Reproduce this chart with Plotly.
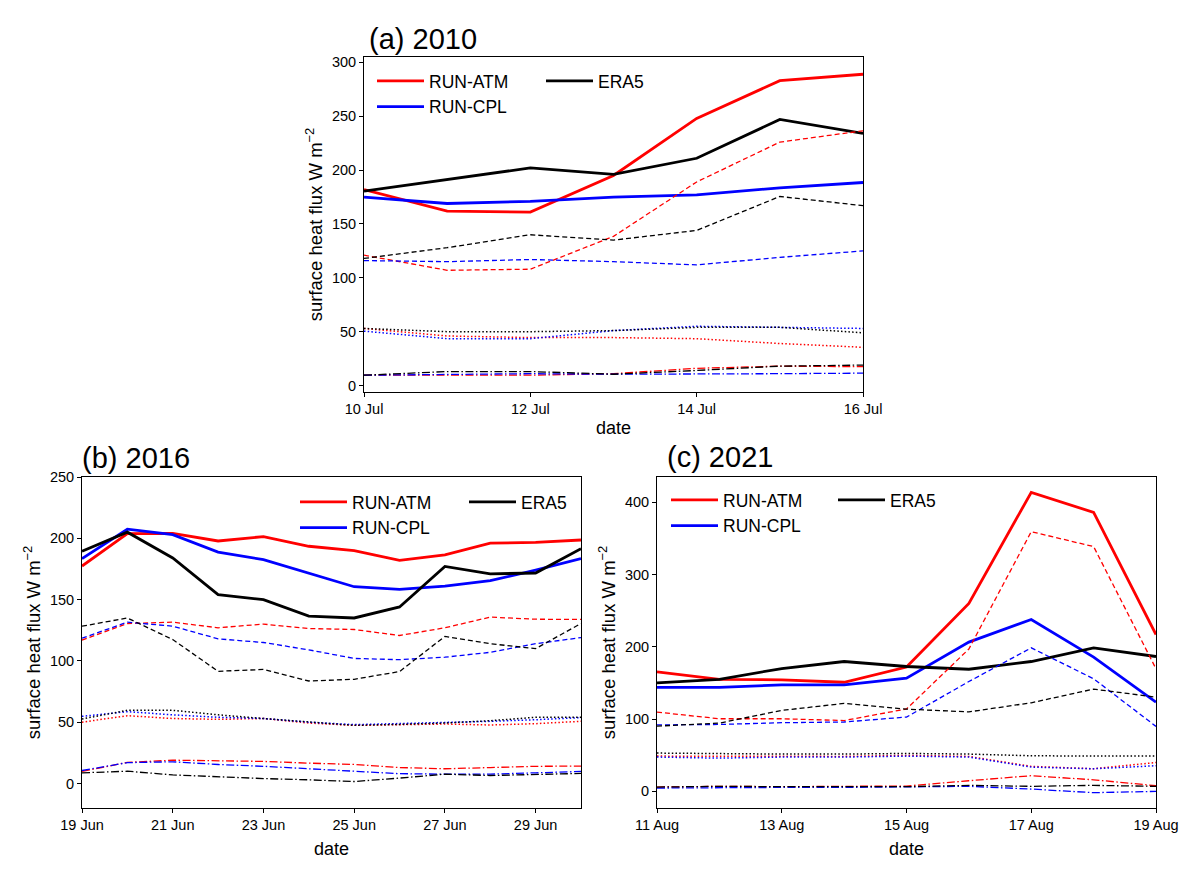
import plotly.graph_objects as go

# ---------------- data ----------------
dates_2010 = ["2010-07-%02d" % d for d in range(10, 17)]
dates_2016 = ["2016-06-%02d" % d for d in range(19, 31)]
dates_2021 = ["2021-08-%02d" % d for d in range(11, 20)]

# 2010 : solid = total, dashed / dotted / dash-dot = components
atm_total_2010 = [182, 162, 161, 195, 248, 283, 289]
cpl_total_2010 = [175, 169, 171, 175, 177, 183.5, 188.5]
era_total_2010 = [180.5, 191, 202, 196, 211, 247, 234]
atm_dash_2010 = [121, 107, 108, 138.5, 189, 226, 236.5]
cpl_dash_2010 = [116, 115, 117, 115, 112, 119, 125]
era_dash_2010 = [118, 128, 140, 135, 144, 175.5, 167]
atm_dot_2010 = [53, 46, 44.5, 44.5, 43.5, 39, 35.5]
cpl_dot_2010 = [50.5, 43.5, 43.5, 51, 55, 54, 53]
era_dot_2010 = [53, 50, 50, 51, 54, 54, 49]
atm_dd_2010 = [9.6, 9.6, 9.6, 11, 16, 18, 17.5]
cpl_dd_2010 = [9.6, 10.5, 11, 10.5, 10.5, 11, 11.5]
era_dd_2010 = [9.6, 13, 13, 10.5, 14, 18, 19]

# 2016
atm_total_2016 = [177.4, 203.8, 204, 197.8, 201.4, 193.5, 190, 182, 186.4, 196, 196.7, 198.6]
cpl_total_2016 = [183.4, 207.4, 203, 188.8, 182.6, 171.7, 160.5, 158.3, 161, 165.4, 174, 183.4]
era_total_2016 = [189.4, 205, 184, 154, 150, 136.5, 135, 144, 177, 171, 171.7, 191.5]
atm_dash_2016 = [117, 130.5, 131.6, 127, 130, 126.4, 125.6, 120.7, 127, 135.7, 134, 133.8]
cpl_dash_2016 = [118.5, 131.6, 128.3, 118, 115, 109, 102, 101, 103, 107, 114, 119]
era_dash_2016 = [128.3, 135, 117.4, 91.5, 93, 83.6, 85, 91.3, 120, 114, 110, 130.5]
atm_dot_2016 = [50, 55.3, 53, 52.3, 53, 49.3, 47.4, 47.7, 48.5, 47.7, 48.8, 50.7]
cpl_dot_2016 = [54.8, 58.6, 56, 54, 53, 50, 48, 48.8, 50, 50.7, 52, 53.7]
era_dot_2016 = [52.6, 59.7, 59.7, 56, 53, 50, 47.4, 48.2, 49.3, 51.2, 54, 54]
atm_dd_2016 = [9.8, 17.2, 19, 18.3, 18, 16.6, 15.5, 13, 12, 13, 14, 14.2]
cpl_dd_2016 = [10.6, 17, 17.7, 15.5, 14, 12, 9.8, 8, 7.6, 7.6, 8.7, 9.8]
era_dd_2016 = [8.7, 10, 7, 5.4, 4, 3, 1.6, 4.4, 7.6, 6.5, 7.4, 8.2]

# 2021
atm_total_2021 = [165.4, 155, 154.4, 151, 172, 260, 413.8, 386, 217]
cpl_total_2021 = [143.8, 143.8, 147.5, 147.5, 156.7, 206.5, 237.8, 185.7, 123.5]
era_total_2021 = [150, 155, 170, 179.7, 172.8, 169, 179.7, 198.6, 186.6]
atm_dash_2021 = [109.7, 100.5, 100.5, 98, 114, 197, 359.4, 338.7, 169.6]
cpl_dash_2021 = [92, 92.6, 95, 96, 102.8, 152, 198.6, 155.8, 89.9]
era_dash_2021 = [90.3, 94.5, 112, 121.7, 113.8, 110, 122.6, 141.5, 130.4]
atm_dot_2021 = [48.8, 48.4, 48.4, 48.4, 49.8, 48.4, 34.6, 31.3, 40]
cpl_dot_2021 = [47.5, 46, 47.5, 47.5, 48.8, 47.5, 33.6, 31.3, 35.5]
era_dot_2021 = [53, 52, 51.6, 51.6, 52.5, 51.6, 49.3, 48.8, 48.8]
atm_dd_2021 = [6, 7, 6.5, 6.5, 7.4, 14.7, 21.7, 16, 7.8]
cpl_dd_2021 = [4.6, 5.5, 5.5, 5.5, 6, 7, 3.2, -1.8, 0]
era_dd_2021 = [6, 7, 6.5, 6, 6.5, 8.3, 7, 8.3, 7]

series_names = ["RUN-ATM", "RUN-CPL", "ERA5"]
colors = {"RUN-ATM": "#ff0000", "RUN-CPL": "#0000ff", "ERA5": "#000000"}

W, H = 1200, 873
FONT = "Liberation Sans, Arial, sans-serif"


def px_x(p):
    return p / W


def px_y(p):
    return 1 - p / H


fig = go.Figure()

panels = [
    dict(ax="", dates=dates_2010, title="(a) 2010",
         box=(364, 863, 57, 392), yr=[-6, 305], dtick=50, xstand=4,
         data={"RUN-ATM": (atm_total_2010, atm_dash_2010, atm_dot_2010, atm_dd_2010),
               "RUN-CPL": (cpl_total_2010, cpl_dash_2010, cpl_dot_2010, cpl_dd_2010),
               "ERA5": (era_total_2010, era_dash_2010, era_dot_2010, era_dd_2010)},
         legs=("legend", "legend2"), title_xy=(367, 39),
         leg1=(372, 63), leg2=(541, 63)),
    dict(ax="2", dates=dates_2016, title="(b) 2016",
         box=(82, 581, 477, 808), yr=[-20, 250], dtick=50, xstand=9,
         data={"RUN-ATM": (atm_total_2016, atm_dash_2016, atm_dot_2016, atm_dd_2016),
               "RUN-CPL": (cpl_total_2016, cpl_dash_2016, cpl_dot_2016, cpl_dd_2016),
               "ERA5": (era_total_2016, era_dash_2016, era_dot_2016, era_dd_2016)},
         legs=("legend3", "legend4"), title_xy=(80, 458),
         leg1=(295, 484), leg2=(464, 484)),
    dict(ax="3", dates=dates_2021, title="(c) 2021",
         box=(657, 1156, 477, 808), yr=[-23, 435], dtick=100, xstand=9,
         data={"RUN-ATM": (atm_total_2021, atm_dash_2021, atm_dot_2021, atm_dd_2021),
               "RUN-CPL": (cpl_total_2021, cpl_dash_2021, cpl_dot_2021, cpl_dd_2021),
               "ERA5": (era_total_2021, era_dash_2021, era_dot_2021, era_dd_2021)},
         legs=("legend5", "legend6"), title_xy=(665, 457),
         leg1=(666, 482), leg2=(833, 482)),
]

styles = [("solid", 2.8), ("5px,3px", 1.3), ("1.5px,2.2px", 1.5), ("8px,2.5px,1.5px,2.5px", 1.3)]

annotations = []
layout_extra = {}
for p in panels:
    xa = "x" + p["ax"]
    ya = "y" + p["ax"]
    for k, (dash, lw) in enumerate(styles):
        for name in series_names:
            vals = p["data"][name][k]
            leg = p["legs"][1] if name == "ERA5" else p["legs"][0]
            fig.add_trace(go.Scatter(
                x=p["dates"], y=vals, mode="lines", name=name,
                line=dict(color=colors[name], width=lw, dash=dash),
                xaxis=xa, yaxis=ya, legend=leg, showlegend=(k == 0),
                hoverinfo="skip"))
    x0, x1, y0, y1 = p["box"]
    axis_common = dict(showline=True, linecolor="black", linewidth=1, mirror=True,
                       ticks="outside", ticklen=4, tickwidth=1, tickcolor="black",
                       showgrid=False, zeroline=False, automargin=False,
                       tickfont=dict(family=FONT, size=14.5, color="black"))
    layout_extra["xaxis" + p["ax"]] = dict(
        domain=[px_x(x0), px_x(x1)], anchor=ya, type="date",
        range=[p["dates"][0], p["dates"][-1]],
        tick0=p["dates"][0], dtick=2 * 86400000, tickformat="%d %b",
        title=dict(text="date", font=dict(family=FONT, size=18, color="black"),
                   standoff=p["xstand"]),
        **axis_common)
    layout_extra["yaxis" + p["ax"]] = dict(
        domain=[px_y(y1), px_y(y0)], anchor=xa, range=p["yr"],
        tick0=0, dtick=p["dtick"],
        title=dict(text="surface heat flux W m<sup>\u22122</sup>",
                   font=dict(family=FONT, size=18.5, color="black"), standoff=4),
        **axis_common)
    annotations.append(dict(
        text=p["title"], xref="paper", yref="paper",
        x=px_x(p["title_xy"][0]), y=px_y(p["title_xy"][1]),
        xanchor="left", yanchor="middle", showarrow=False,
        font=dict(family=FONT, size=29, color="black")))
    for legname, pos in zip(p["legs"], (p["leg1"], p["leg2"])):
        layout_extra[legname] = dict(
            x=px_x(pos[0]), y=px_y(pos[1]), xanchor="left", yanchor="top",
            bgcolor="rgba(0,0,0,0)", borderwidth=0,
            font=dict(family=FONT, size=17.5, color="black"),
            tracegroupgap=0, itemwidth=47)

fig.update_layout(
    width=W, height=H, margin=dict(l=0, r=0, t=0, b=0, autoexpand=False),
    paper_bgcolor="white", plot_bgcolor="white",
    font=dict(family=FONT, color="black"),
    annotations=annotations, showlegend=True,
    **layout_extra)

fig.write_html("out.html", config={"displayModeBar": False},
               post_script="document.body.style.margin='0';")
